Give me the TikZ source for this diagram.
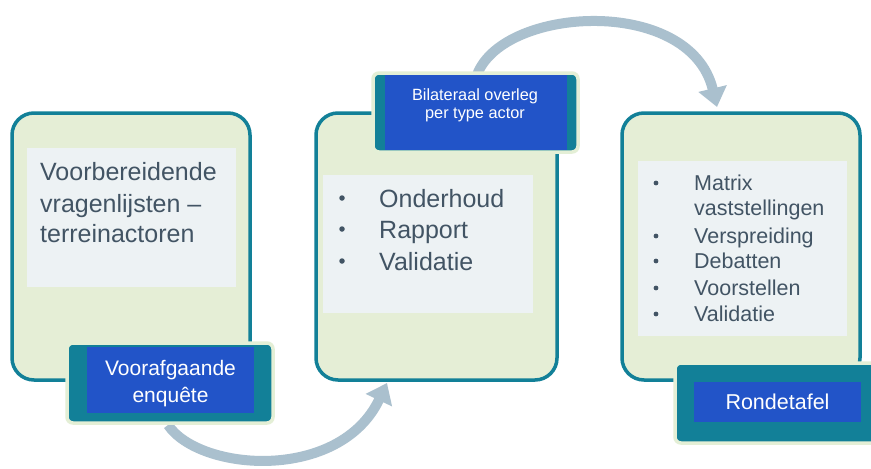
\documentclass[tikz,border=0pt]{standalone}
\usepackage{fontspec}
\setmainfont{Liberation Sans}
\usetikzlibrary{arrows.meta}
\definecolor{teal1}{RGB}{18,128,152}
\definecolor{boxfill}{RGB}{229,238,214}
\definecolor{panel}{RGB}{237,242,244}
\definecolor{txt}{RGB}{66,84,100}
\definecolor{blu}{RGB}{34,84,200}
\definecolor{arr}{RGB}{170,192,206}
\definecolor{glow}{RGB}{228,239,214}
\begin{document}
\begin{tikzpicture}[x=1pt,y=-1pt,
  stagebox/.style={draw=teal1, line width=3.5pt, fill=boxfill, rounded corners=22pt, anchor=north west, inner sep=0pt, outer sep=0pt},
  panelbox/.style={fill=panel, anchor=north west, inner sep=0pt, outer sep=0pt},
  tagouter/.style={draw=glow, line width=3.5pt, fill=teal1, rounded corners=6pt, anchor=north west, inner sep=0pt, outer sep=0pt},
  tagblue/.style={fill=blu, anchor=north west, inner sep=0pt, outer sep=0pt},
  bigtxt/.style={text=txt, font=\fontsize{25}{31}\selectfont, anchor=base west, inner sep=0pt},
  midtxt/.style={text=txt, font=\fontsize{21.5}{26}\selectfont, anchor=base west, inner sep=0pt},
  bigdot/.style={circle, fill=txt, minimum size=5.5pt, inner sep=0pt},
  middot/.style={circle, fill=txt, minimum size=4.8pt, inner sep=0pt},
  tagtxt/.style={text=white, anchor=base, inner sep=0pt},
  flow/.style={draw=arr, line width=10pt, -{Triangle[length=19pt,width=28pt]}}
]
\useasboundingbox (0,0) rectangle (871,469);
\fill[white] (0,0) rectangle (871,469);

% arrows (behind boxes)
\coordinate (a1s) at (168,425);
\coordinate (a1e) at (387,383);
\coordinate (a2s) at (476,78);
\coordinate (a2e) at (717,107);
\draw[flow] (a1s) .. controls (200,472) and (340,482) .. (a1e);
\draw[flow] (a2s) .. controls (497,6) and (690,-6) .. (a2e);

% stage boxes
\node[stagebox, minimum width=238pt, minimum height=267pt] (b1) at (12,113) {};
\node[stagebox, minimum width=241pt, minimum height=267pt] (b2) at (316,113) {};
\node[stagebox, minimum width=238pt, minimum height=267pt] (b3) at (622,113) {};

% inner panels
\node[panelbox, minimum width=209pt, minimum height=139pt] (p1) at (27,148) {};
\node[panelbox, minimum width=210pt, minimum height=138pt] (p2) at (323,175) {};
\node[panelbox, minimum width=209pt, minimum height=175pt] (p3) at (638,161) {};

% box 1 text
\node[bigtxt] (t11) at (40,180) {Voorbereidende};
\node[bigtxt] (t12) at (40,212) {vragenlijsten –};
\node[bigtxt] (t13) at (40,242) {terreinactoren};

% box 2 list
\node[bigdot] (d21) at (342,198) {};
\node[bigdot] (d22) at (342,229) {};
\node[bigdot] (d23) at (342,261) {};
\node[bigtxt] (t21) at (379,207) {Onderhoud};
\node[bigtxt] (t22) at (379,238) {Rapport};
\node[bigtxt] (t23) at (379,270) {Validatie};

% box 3 list
\node[middot] (d31) at (656,183) {};
\node[middot] (d33) at (656,236) {};
\node[middot] (d34) at (656,261) {};
\node[middot] (d35) at (656,288) {};
\node[middot] (d36) at (656,314) {};
\node[midtxt] (t31) at (694,190) {Matrix};
\node[midtxt] (t32) at (694,215) {vaststellingen};
\node[midtxt] (t33) at (694,243) {Verspreiding};
\node[midtxt] (t34) at (694,268) {Debatten};
\node[midtxt] (t35) at (694,295) {Voorstellen};
\node[midtxt] (t36) at (694,321) {Validatie};

% tag 1
\node[tagouter, minimum width=206pt, minimum height=80pt] (g1) at (67,343) {};
\node[tagblue, minimum width=167pt, minimum height=66pt] (g1b) at (87,347) {};
\node[tagtxt, font=\fontsize{21}{26}\selectfont] (u11) at (170.5,375) {Voorafgaande};
\node[tagtxt, font=\fontsize{21}{26}\selectfont] (u12) at (170.5,402) {enquête};

% tag 2
\node[tagouter, minimum width=205pt, minimum height=79pt] (g2) at (373,73) {};
\node[tagblue, minimum width=182pt, minimum height=75pt] (g2b) at (385,75) {};
\node[tagtxt, font=\fontsize{16.3}{19}\selectfont] (u21) at (475,100) {Bilateraal overleg};
\node[tagtxt, font=\fontsize{16.3}{19}\selectfont] (u22) at (475,118) {per type actor};

% tag 3
\node[tagouter, minimum width=215pt, minimum height=80pt] (g3) at (675,363) {};
\node[tagblue, minimum width=167pt, minimum height=40pt] (g3b) at (694,382) {};
\node[tagtxt, font=\fontsize{21.5}{26}\selectfont] (u31) at (777.5,409) {Rondetafel};
\end{tikzpicture}
\end{document}
